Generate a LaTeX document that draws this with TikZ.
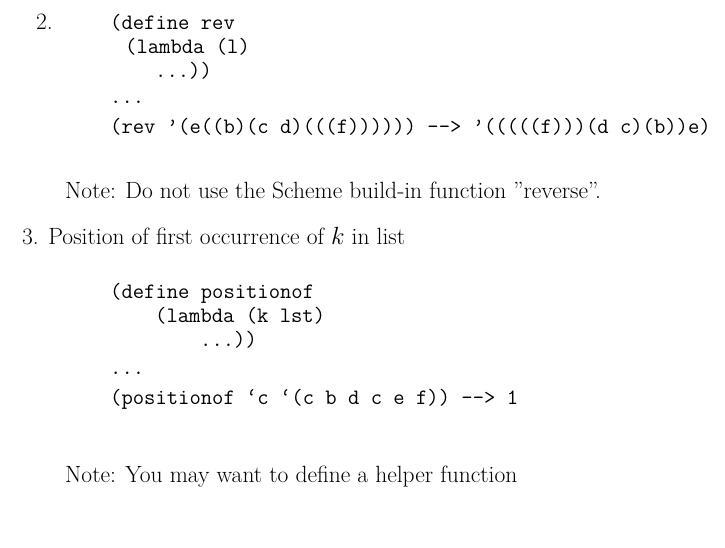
\documentclass[tikz,border=0pt]{standalone}
\begin{document}
\begin{tikzpicture}[x=1pt,y=-1pt,
  t/.style={anchor=base west,inner sep=0pt,font=\fontsize{23.5}{27}\selectfont},
  c/.style={anchor=base west,inner sep=0pt,font=\fontsize{22}{26}\selectfont\ttfamily}]
\useasboundingbox (0,0) rectangle (725,548);
\node[t] (n2) at (36,30) {2.};
\node[c] (c1) at (110,30) {(define rev};
\node[c] (c2) at (125,54) {(lambda (l)};
\node[c] (c3) at (155,78) {...))};
\node[c] (c4) at (110,104) {...};
\node[c] (c5) at (110,134) {(rev \textquoteright(e((b)(c d)(((f)))))) --> \textquoteright(((((f)))(d c)(b))e)};
\node[t] (note1) at (65,198) {Note: Do not use the Scheme build-in function ''reverse''.};
\node[t] (n3) at (22,244) {3. Position of first occurrence of $k$ in list};
\node[c] (d1) at (110,298) {(define positionof};
\node[c] (d2) at (155,322) {(lambda (k lst)};
\node[c] (d3) at (200,346) {...))};
\node[c] (d4) at (110,374) {...};
\node[c] (d5) at (110,404) {(positionof \textquoteleft c \textquoteleft(c b d c e f)) --> 1};
\node[t] (note2) at (65,482) {Note: You may want to define a helper function};
\end{tikzpicture}
\end{document}
